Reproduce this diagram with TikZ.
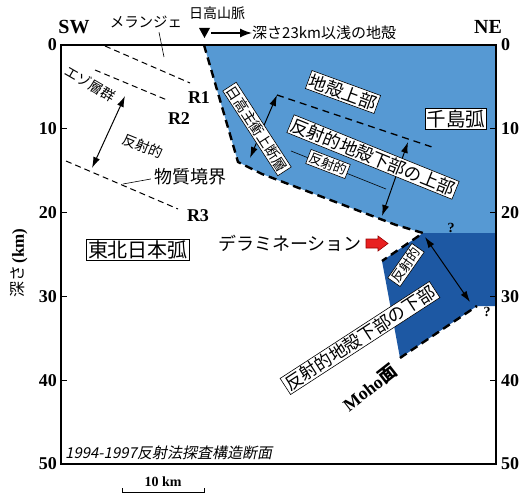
\documentclass[tikz,border=0pt]{standalone}
\usepackage{fontspec}
\setmainfont{Liberation Serif}
\newfontfamily\jp{Noto Sans CJK JP}
\newfontfamily\jpit{Noto Sans CJK JP}[FakeSlant=0.2]
\usetikzlibrary{arrows.meta, calc, positioning}
\definecolor{upcrust}{RGB}{86,153,211}
\definecolor{lowcrust}{RGB}{29,88,163}
\definecolor{delamred}{RGB}{232,32,32}

\begin{document}
\begin{tikzpicture}[x=1pt, y=-1pt, every node/.style={inner sep=0pt},
    jlab/.style={font=\jp\fontsize{14}{14}\selectfont},
    jbox/.style={draw, fill=white, line width=0.6pt, inner sep=1.5pt, font=\jp\fontsize{#1}{#1}\selectfont},
    jbox/.default=16,
    axnum/.style={font=\bfseries\fontsize{18}{18}\selectfont},
    rlab/.style={font=\bfseries\fontsize{18}{18}\selectfont},
    bnd/.style={dash pattern=on 8pt off 5pt, line width=2.4pt},
    refl/.style={dash pattern=on 6pt off 4pt, line width=1pt},
    dbl/.style={{Latex[length=11pt,width=7pt]}-{Latex[length=11pt,width=7pt]}, line width=1pt}]
    \useasboundingbox (0,0) rectangle (523,495);

    % crust blocks
    \coordinate (hidaka) at (204,45);
    \coordinate (kink) at (238,162);
    \coordinate (bend) at (262,174);
    \coordinate (bend2) at (396,225);
    \coordinate (delam) at (423,233);
    \coordinate (ltop) at (382,261);
    \coordinate (lbot) at (400,358);
    \coordinate (moho) at (477,306);
    \fill[upcrust] (hidaka) -- (496,45) -- (496,233) -- (delam) -- (bend2) -- (bend) -- (kink) -- cycle;
    \fill[lowcrust] (delam) -- (496,233) -- (496,306) -- (moho) -- (lbot) -- (ltop) -- cycle;
    \draw[bnd] (hidaka) -- (kink) -- (bend) -- (bend2) -- (delam) -- (ltop);
    \draw[bnd] (lbot) -- (moho);

    % frame and depth axes
    \draw[line width=1.5pt] (61,45) rectangle (496,464);
    \foreach \d in {10,20,30,40} {
        \draw[line width=1pt] (61,{45+8.38*\d}) -- ++(6,0);
        \draw[line width=1pt] (496,{45+8.38*\d}) -- ++(-6,0);
    }
    \foreach \d in {0,10,...,50} {
        \node[axnum, anchor=east] (dl\d) at (57,{45+8.38*\d}) {\d};
        \node[axnum, anchor=west] (dr\d) at (501,{45+8.38*\d}) {\d};
    }
    \node[rotate=90] (depth) at (19,263) {{\jp\fontsize{16}{16}\selectfont 深さ}\,\textbf{\fontsize{17}{17}\selectfont(km)}};
    \node[font=\bfseries\fontsize{20}{20}\selectfont] (sw) at (74,27) {SW};
    \node[font=\bfseries\fontsize{20}{20}\selectfont] (ne) at (488,27) {NE};

    % reflectors on the SW side
    \coordinate (r1a) at (105,46);  \coordinate (r1b) at (190,83);
    \coordinate (r2a) at (95,70);   \coordinate (r2b) at (167,100);
    \coordinate (r3a) at (66,161);  \coordinate (r3b) at (178,209);
    \draw[refl] (r1a) -- (r1b);
    \draw[refl] (r2a) -- (r2b);
    \draw[refl] (r3a) -- (r3b);
    \node[rlab] (R1) at (199,98) {R1};
    \node[rlab] (R2) at (179,119) {R2};
    \node[rlab] (R3) at (198,216) {R3};
    \node[jlab, font=\jp\fontsize{14.5}{14.5}\selectfont] (melange) at (146,22) {メランジェ};
    \coordinate (mel) at (164,57);
    \draw[line width=0.6pt] (melange.south) ++(13,4) -- (mel);
    \node[jlab, rotate=-30] (ezo) at (90,84) {エゾ層群};
    \coordinate (swup) at (125,96);
    \coordinate (swdn) at (92,168);
    \draw[dbl] (swup) -- (swdn);
    \node[jlab, rotate=-22] (swrefl) at (143,146) {反射的};
    \node[jlab, font=\jp\fontsize{18}{18}\selectfont] (boundary) at (190,177) {物質境界};
    \coordinate (r3mid) at (123,184);
    \draw[line width=0.6pt] (r3mid) -- ($(boundary.west)+(-3,2)$);

    % NE side
    \coordinate (midtop) at (277,95);
    \coordinate (midend) at (432,147);
    \draw[dash pattern=on 7pt off 5pt, line width=1.3pt] (midtop) -- (midend);
    \coordinate (thrlow) at (250,158);
    \draw[dbl] (thrlow) -- (midtop);
    \coordinate (ulup) at (408,142);
    \coordinate (uldn) at (382,216);
    \draw[dbl] (ulup) -- (uldn);
    \coordinate (lk1) at (291,151);
    \coordinate (lk2) at (386,189);
    \draw[line width=0.6pt] (lk1) -- (lk2);
    \node[jbox=17.5, rotate=-20] (upper) at (343,92) {地殻上部};
    \node[jbox=19.5] (kuril) at (456,119) {千島弧};
    \node[jbox=14, rotate=-57] (thrust) at (257,129) {日高主衝上断層};
    \node[jbox=17.5, rotate=-22] (ulower) at (373,157) {反射的地殻下部の上部};
    \node[jbox=13, rotate=-21] (nerefl) at (328,164) {反射的};

    \coordinate (llup) at (425,237);
    \coordinate (lldn) at (470,302);
    \draw[dbl] (llup) -- (lldn);
    \node[jbox=13, rotate=55] (lrefl) at (406,265) {反射的};
    \node[jbox=17.5, rotate=33] (llower) at (360,338) {反射的地殻下部の下部};
    \node[rotate=38, font=\bfseries\fontsize{18}{18}\selectfont] (mohoface) at (370,388) {Moho{\jp 面}};
    \node[font=\bfseries\fontsize{14}{14}\selectfont] (q1) at (451,228) {?};
    \node[font=\bfseries\fontsize{14}{14}\selectfont] (q2) at (487,312) {?};

    % top labels
    \node[jlab] (range) at (217,13) {日高山脈};
    \fill (199,28) -- (210,28) -- (204.5,38) -- cycle;
    \coordinate (shal) at (211,33);
    \node[jlab, font=\jp\fontsize{15}{15}\selectfont, anchor=west] (shallow) at (252,33) {深さ23km以浅の地殻};
    \draw[-{Latex[length=12pt,width=9pt]}, line width=1.5pt] (shal) -- (shallow.west);

    % arcs and delamination
    \node[jbox=20] (tohoku) at (138,250) {東北日本弧};
    \node[jlab, font=\jp\fontsize{18}{18}\selectfont, anchor=east] (delamlab) at (362,243) {デラミネーション};
    \draw[fill=delamred, draw=red!60!black, line width=0.6pt]
        (366,239) -- (378,239) -- (378,236) -- (388,243.5) -- (378,251) -- (378,248) -- (366,248) -- cycle;

    % section title and scale
    \node[font=\jpit\fontsize{15}{15}\selectfont, anchor=west] (title) at (65,453) {1994-1997反射法探査構造断面};
    \coordinate (sc1) at (122,492);
    \coordinate (sc2) at (204,492);
    \draw[line width=1pt] ($(sc1)+(0,-4)$) -- (sc1) -- (sc2) -- ++(0,-4);
    \node[font=\bfseries\fontsize{14}{14}\selectfont] (scale) at (163,482) {10 km};
\end{tikzpicture}
\end{document}
